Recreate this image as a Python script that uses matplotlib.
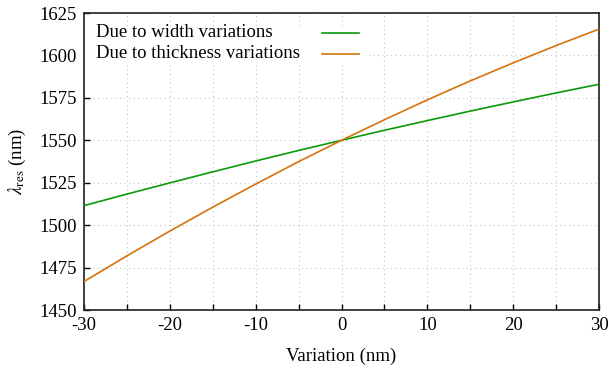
import numpy as np
import matplotlib
matplotlib.use("Agg")
import matplotlib.pyplot as plt
from matplotlib.patches import Rectangle
from matplotlib.lines import Line2D

variation = [-30, -25, -20, -15, -10, -5, 0, 5, 10, 15, 20, 25, 30]
width_res = [1511.5, 1518.3, 1524.9, 1531.4, 1537.8, 1544.0, 1550.0,
             1555.9, 1561.6, 1567.2, 1572.6, 1577.9, 1583.0]
thick_res = [1466.8, 1481.9, 1496.5, 1510.6, 1524.2, 1537.4, 1550.0,
             1562.1, 1573.8, 1585.0, 1595.6, 1605.8, 1615.5]
labels = ["Due to width variations", "Due to thickness variations"]
colors = ["#0a9a0a", "#d6730e"]
xticks = [-30, -20, -10, 0, 10, 20, 30]
yticks = [1450, 1475, 1500, 1525, 1550, 1575, 1600, 1625]

plt.rcParams['font.family'] = ['Liberation Serif', 'DejaVu Serif']
plt.rcParams['mathtext.fontset'] = 'stix'
FS = 13.5

fig = plt.figure(figsize=(6.09, 3.73), dpi=100)
ax = fig.add_axes([84/609, 1-310/373, 515/609, 297/373])

ax.plot(variation, width_res, color=colors[0], lw=1.2, zorder=3)
ax.plot(variation, thick_res, color=colors[1], lw=1.2, zorder=3)

ax.set_xlim(-30, 30)
ax.set_ylim(1450, 1625)
ax.set_xticks(xticks)
ax.set_xticklabels([str(t) for t in xticks])
ax.set_xticks(np.arange(-25, 30, 10), minor=True)
ax.set_yticks(yticks)
ax.tick_params(axis='both', which='both', direction='in', length=4.5, width=1,
               top=False, right=False, labelsize=FS, pad=5)
ax.grid(True, which='both', axis='x', color='#c4c4c4', lw=0.8, ls=(0, (1, 3)))
ax.grid(True, which='major', axis='y', color='#c4c4c4', lw=0.8, ls=(0, (1, 3)))
ax.set_axisbelow(True)
for s in ax.spines.values():
    s.set_linewidth(1.2)
    s.set_color('#202020')

ax.set_xlabel('Variation (nm)', fontsize=FS, labelpad=10)
ax.set_ylabel(r'$\lambda_{\rm res}$ (nm)', fontsize=FS, labelpad=8)

# gnuplot-style key (opaque, text left, samples right)
ax.add_patch(Rectangle((0.002, 0.825), 0.545, 0.128, transform=ax.transAxes,
                       facecolor='white', edgecolor='none', zorder=2))
key_y = [0.933, 0.863]
for lab, c, yy in zip(labels, colors, key_y):
    ax.text(0.023, yy, lab, transform=ax.transAxes, fontsize=FS,
            va='center', ha='left', zorder=4)
    ax.add_line(Line2D([0.462, 0.534], [yy, yy], transform=ax.transAxes,
                       color=c, lw=1.2, zorder=4))

fig.savefig('out.png', dpi=100)
